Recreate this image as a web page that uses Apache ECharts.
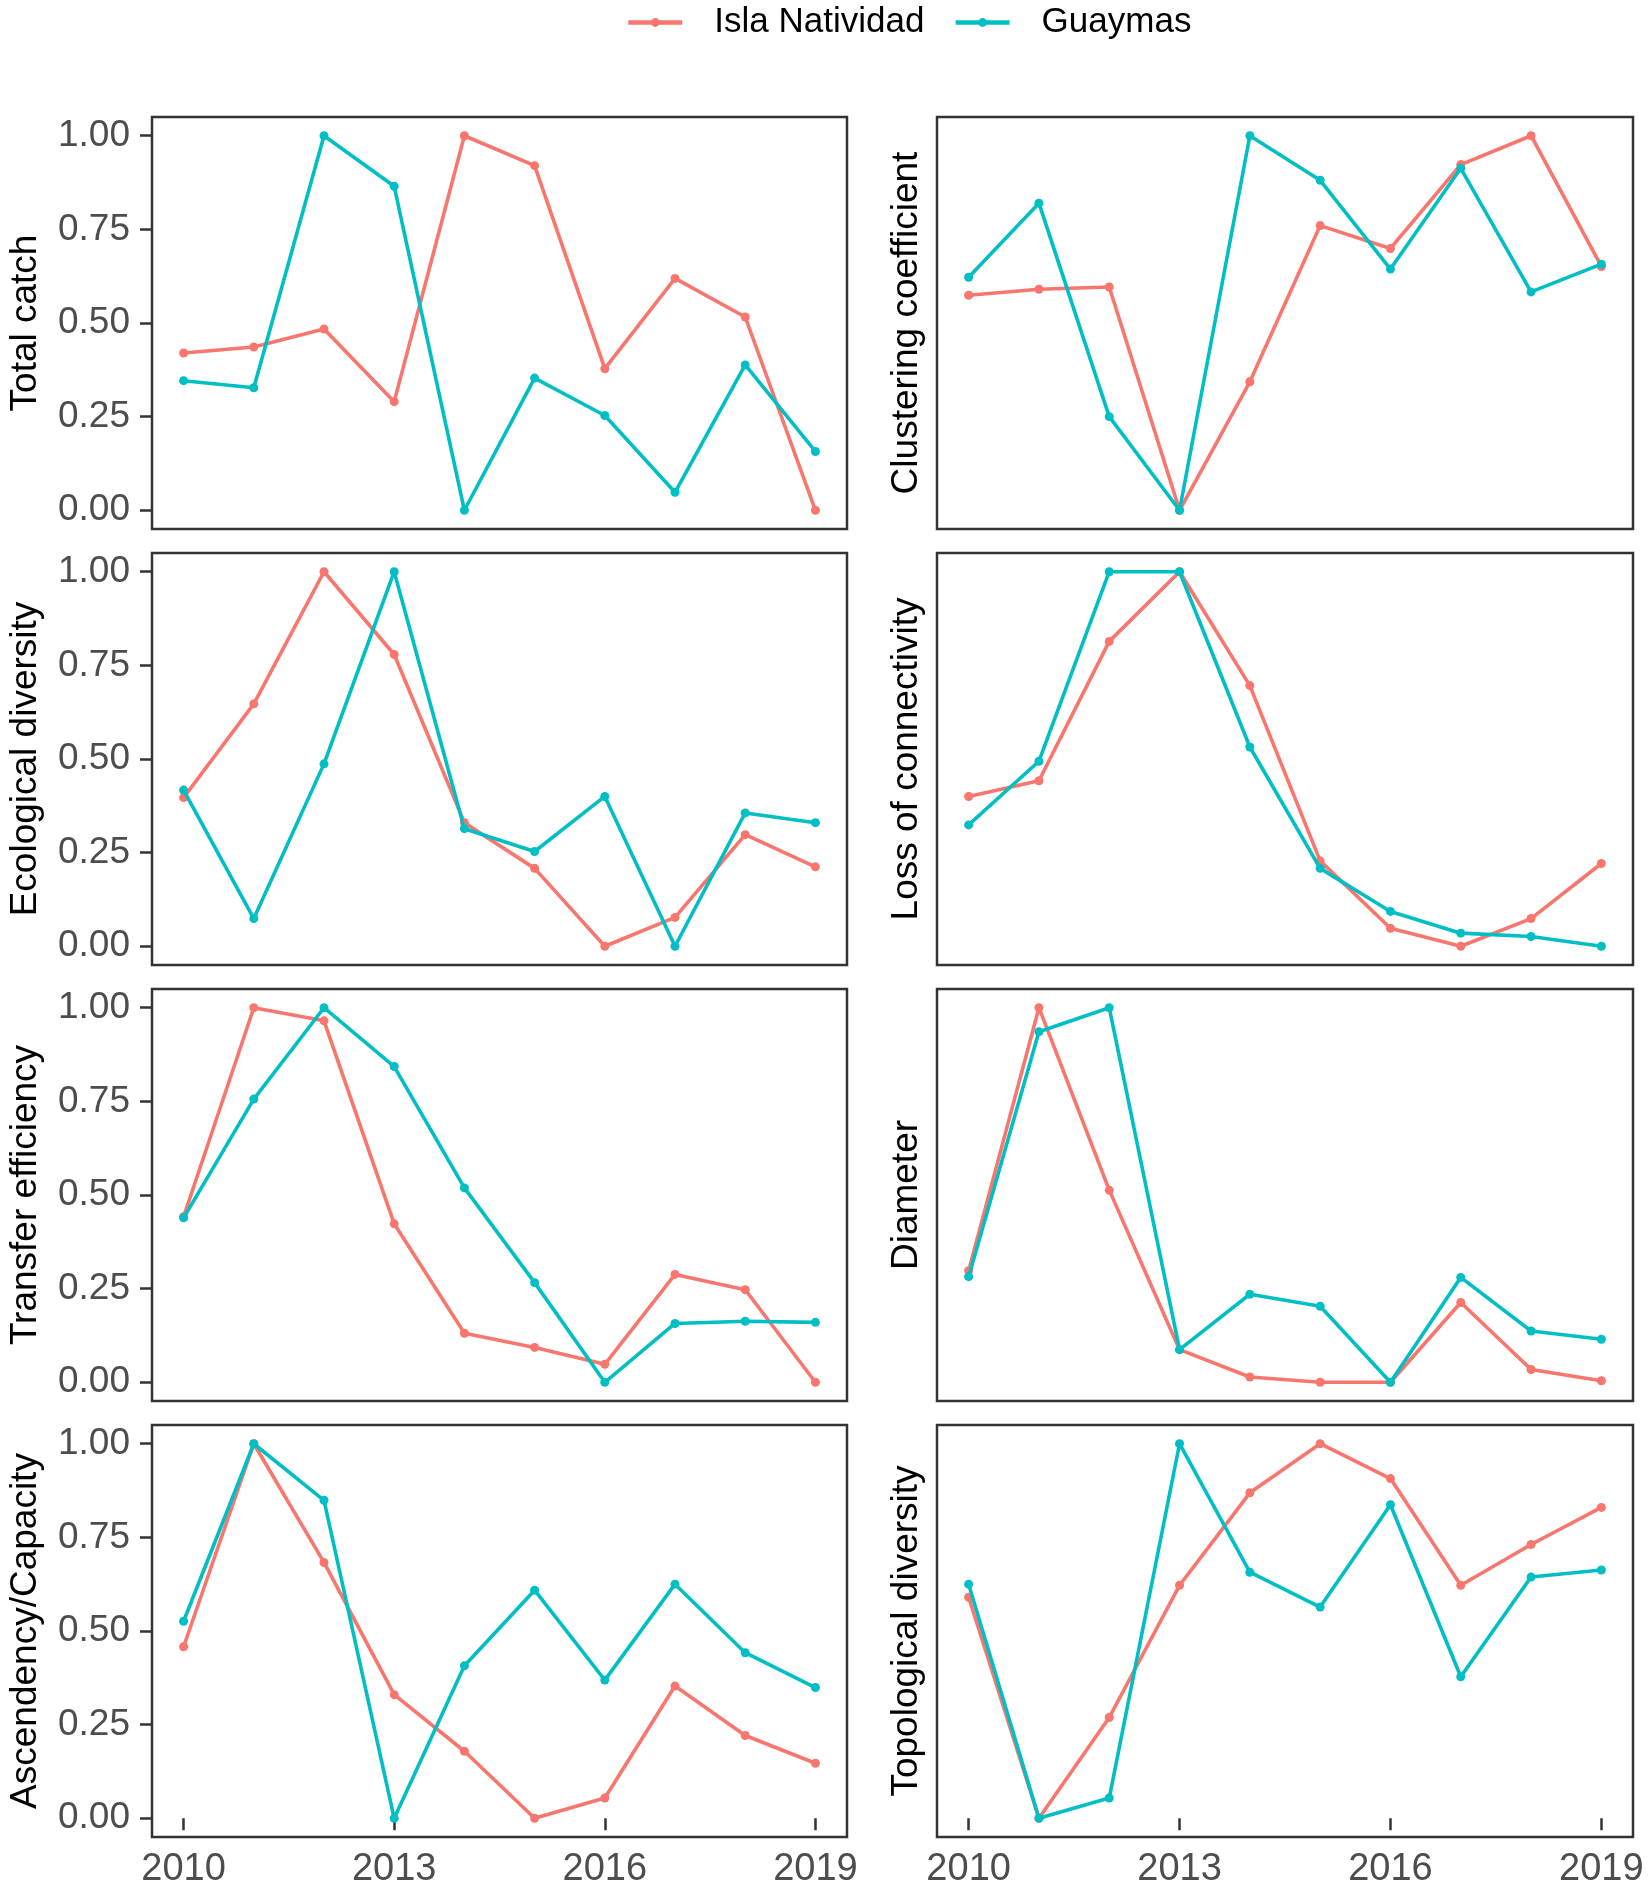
<!DOCTYPE html>
<html>
<head>
<meta charset="utf-8">
<script src="https://cdn.jsdelivr.net/npm/echarts@6/dist/echarts.min.js"></script>
<style>
html,body{margin:0;padding:0;background:#fff;}
#chart{width:1650px;height:1892px;}
</style>
</head>
<body>
<div id="chart"></div>
<script>
const years = [2010, 2011, 2012, 2013, 2014, 2015, 2016, 2017, 2018, 2019];
const xTicks = [2010, 2013, 2016, 2019];
const yTicks = [0, 0.25, 0.5, 0.75, 1.0];
const seriesNames = ['Isla Natividad', 'Guaymas'];

const panelTitles = [
  'Total catch', 'Clustering coefficient',
  'Ecological diversity', 'Loss of connectivity',
  'Transfer efficiency', 'Diameter',
  'Ascendency/Capacity', 'Topological diversity'
];

const totalCatchIsla     = [0.42, 0.436, 0.484, 0.29, 1.0, 0.92, 0.378, 0.619, 0.516, 0.0];
const totalCatchGuaymas  = [0.346, 0.327, 1.0, 0.865, 0.0, 0.353, 0.253, 0.048, 0.388, 0.157];

const clusteringIsla     = [0.574, 0.59, 0.596, 0.0, 0.343, 0.76, 0.699, 0.923, 1.0, 0.651];
const clusteringGuaymas  = [0.622, 0.82, 0.25, 0.0, 1.0, 0.881, 0.644, 0.913, 0.583, 0.657];

const ecoDivIsla         = [0.397, 0.647, 1.0, 0.779, 0.33, 0.208, 0.0, 0.077, 0.298, 0.212];
const ecoDivGuaymas      = [0.417, 0.074, 0.487, 1.0, 0.314, 0.253, 0.40, 0.0, 0.356, 0.33];

const lossConnIsla       = [0.40, 0.442, 0.814, 1.0, 0.696, 0.228, 0.048, 0.0, 0.074, 0.221];
const lossConnGuaymas    = [0.324, 0.494, 1.0, 1.0, 0.532, 0.208, 0.093, 0.035, 0.026, 0.0];

const transferIsla       = [0.442, 1.0, 0.965, 0.423, 0.131, 0.093, 0.048, 0.288, 0.247, 0.0];
const transferGuaymas    = [0.439, 0.756, 1.0, 0.843, 0.519, 0.266, 0.0, 0.157, 0.163, 0.16];

const diameterIsla       = [0.298, 1.0, 0.513, 0.087, 0.014, 0.0, 0.0, 0.213, 0.034, 0.004];
const diameterGuaymas    = [0.282, 0.936, 1.0, 0.087, 0.235, 0.203, 0.0, 0.28, 0.137, 0.115];

const ascendIsla         = [0.458, 1.0, 0.683, 0.33, 0.179, 0.0, 0.054, 0.353, 0.221, 0.147];
const ascendGuaymas      = [0.526, 1.0, 0.849, 0.0, 0.407, 0.609, 0.369, 0.625, 0.442, 0.349];

const topoIsla           = [0.59, 0.0, 0.269, 0.622, 0.869, 1.0, 0.907, 0.622, 0.731, 0.83];
const topoGuaymas        = [0.625, 0.0, 0.054, 1.0, 0.657, 0.564, 0.837, 0.378, 0.644, 0.663];

const panelData = [
  [totalCatchIsla, totalCatchGuaymas],
  [clusteringIsla, clusteringGuaymas],
  [ecoDivIsla, ecoDivGuaymas],
  [lossConnIsla, lossConnGuaymas],
  [transferIsla, transferGuaymas],
  [diameterIsla, diameterGuaymas],
  [ascendIsla, ascendGuaymas],
  [topoIsla, topoGuaymas]
];

const colors = ['#F8766D', '#00BFC4'];
const FONT = "'Liberation Sans', Arial, Helvetica, sans-serif";
const colLeft = [152, 937];
const colWidth = [695, 696];
const rowTop = [117, 553, 989, 1425];
const rowHeight = 412;

const grids = [], xAxes = [], yAxes = [], series = [];
panelTitles.forEach((title, i) => {
  const row = Math.floor(i / 2), col = i % 2;
  const isBottom = row === 3, isLeft = col === 0;
  grids.push({
    left: colLeft[col], top: rowTop[row], width: colWidth[col], height: rowHeight,
    show: true, borderColor: '#333333', borderWidth: 2.5, backgroundColor: 'transparent'
  });
  xAxes.push({
    type: 'value', gridIndex: i, min: 2009.55, max: 2019.45,
    splitLine: { show: false },
    axisLine: { show: false },
    axisTick: { show: isBottom, length: 12, lineStyle: { color: '#333333', width: 2.5 }, customValues: xTicks },
    axisLabel: { show: isBottom, customValues: xTicks, fontSize: 38, color: '#4D4D4D', fontFamily: FONT, margin: 14,
      formatter: v => String(Math.round(v)) }
  });
  yAxes.push({
    type: 'value', gridIndex: i, min: -0.05, max: 1.05,
    name: title, nameLocation: 'middle', nameGap: isLeft ? 108 : 12,
    nameTextStyle: { fontSize: 37, color: '#000000', fontFamily: FONT },
    splitLine: { show: false },
    axisLine: { show: false },
    axisTick: { show: isLeft, length: 12, lineStyle: { color: '#333333', width: 2.5 }, customValues: yTicks },
    axisLabel: { show: isLeft, customValues: yTicks, fontSize: 37, color: '#4D4D4D', fontFamily: FONT, margin: 22,
      formatter: v => v.toFixed(2) }
  });
  panelData[i].forEach((vals, s) => {
    series.push({
      name: seriesNames[s], type: 'line', xAxisIndex: i, yAxisIndex: i,
      data: years.map((y, k) => [y, vals[k]]),
      symbol: 'circle', symbolSize: 9, showSymbol: true,
      lineStyle: { color: colors[s], width: 3.6 },
      itemStyle: { color: colors[s] },
      z: s === 0 ? 2 : 3,
      animation: false
    });
  });
});

const chart = echarts.init(document.getElementById('chart'), null, { renderer: 'canvas' });
chart.setOption({
  backgroundColor: '#ffffff',
  animation: false,
  color: colors,
  legend: {
    data: seriesNames, left: 621, top: 0,
    itemWidth: 54, itemHeight: 11, itemGap: 29,
    lineStyle: { width: 4.5 },
    textStyle: { fontSize: 35, color: '#000000', fontFamily: FONT, padding: [0, 0, 0, 27] }
  },
  grid: grids, xAxis: xAxes, yAxis: yAxes, series: series
});
</script>
</body>
</html>
